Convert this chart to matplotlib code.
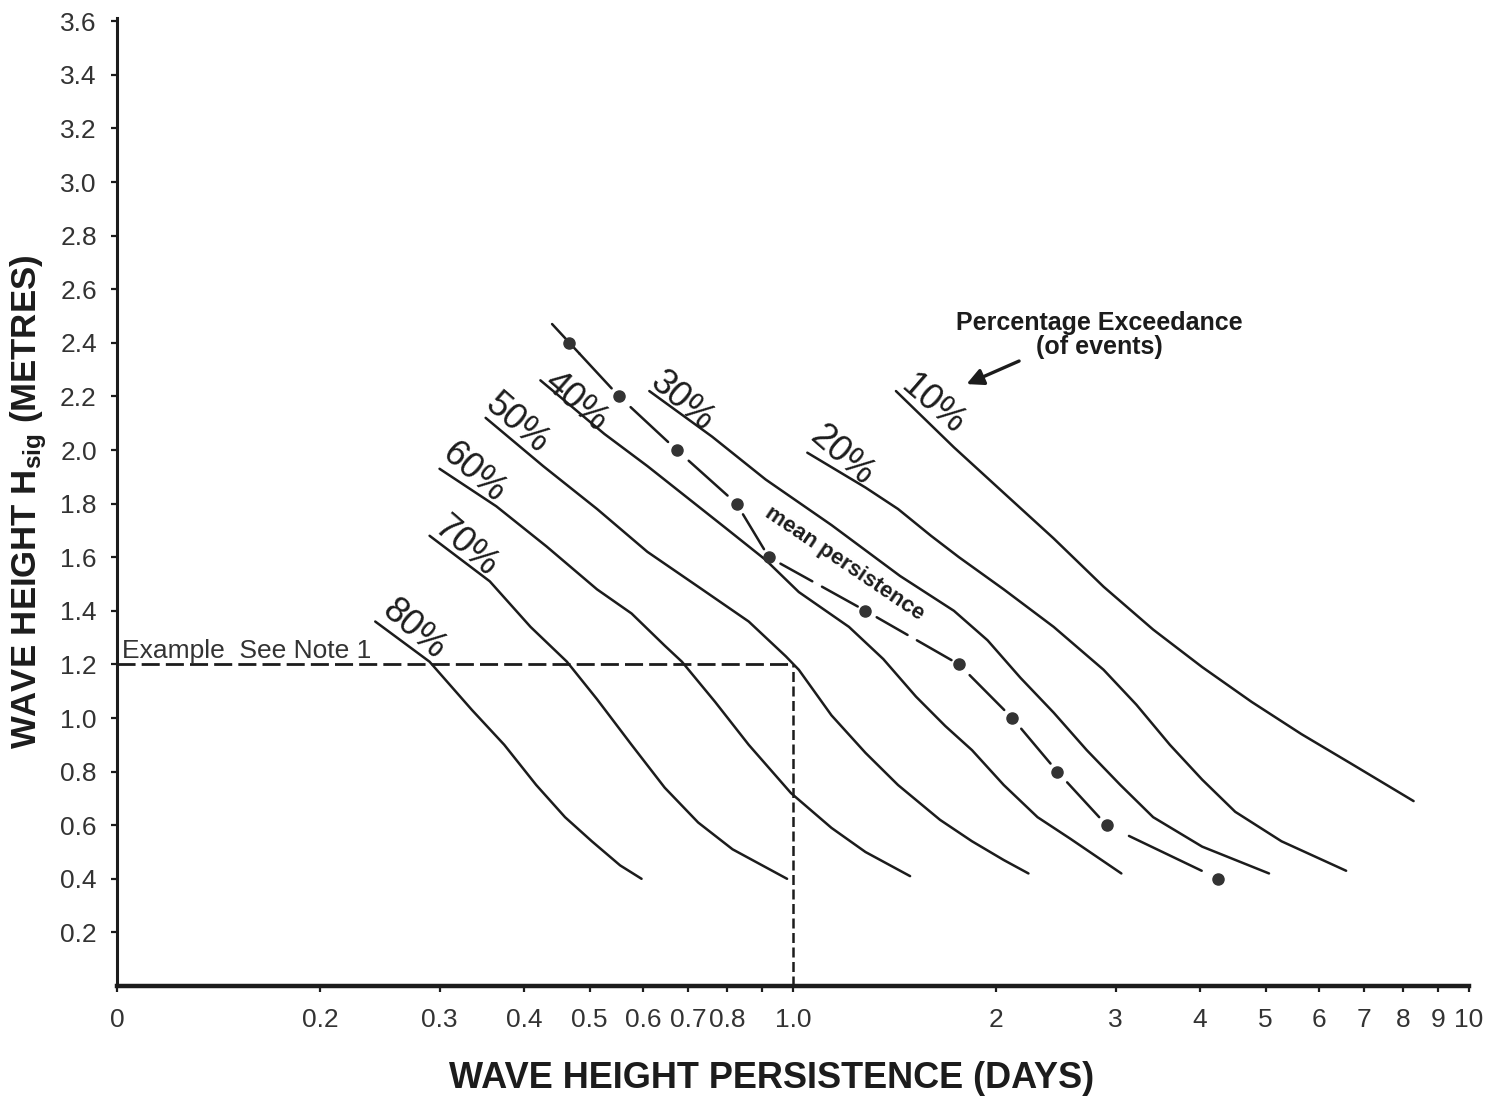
import numpy as np
import matplotlib
matplotlib.use("Agg")
import matplotlib.pyplot as plt
from matplotlib import font_manager
from matplotlib.ticker import FixedLocator, FixedFormatter, NullLocator

# ---- values: persistence (days) vs Hsig (m) ----
levels = ["10%", "20%", "30%", "40%", "50%", "60%", "70%", "80%"]

days_10 = [1.42, 1.73, 2.05, 2.43, 2.88, 3.41, 4.03, 4.77, 5.65, 6.69, 8.28]
hsig_10 = [2.22, 2.01, 1.84, 1.67, 1.49, 1.33, 1.19, 1.06, 0.94, 0.83, 0.69]

days_20 = [1.05, 1.28, 1.43, 1.60, 1.76, 2.05, 2.43, 2.88, 3.22, 3.61, 4.03, 4.51, 5.28, 6.58]
hsig_20 = [1.99, 1.86, 1.78, 1.68, 1.60, 1.48, 1.34, 1.18, 1.05, 0.90, 0.77, 0.65, 0.54, 0.43]

days_30 = [0.613, 0.759, 0.911, 1.14, 1.44, 1.73, 1.94, 2.17, 2.43, 2.72, 3.05, 3.41, 4.03, 5.06]
hsig_30 = [2.22, 2.05, 1.89, 1.72, 1.53, 1.40, 1.29, 1.15, 1.02, 0.88, 0.75, 0.63, 0.52, 0.42]

days_40 = [0.423, 0.526, 0.609, 0.724, 0.794, 0.911, 1.02, 1.21, 1.36, 1.52, 1.68, 1.84, 2.05, 2.30, 2.57, 3.06]
hsig_40 = [2.26, 2.06, 1.94, 1.79, 1.71, 1.59, 1.47, 1.34, 1.22, 1.08, 0.97, 0.88, 0.75, 0.63, 0.55, 0.42]

days_50 = [0.351, 0.427, 0.513, 0.609, 0.724, 0.860, 0.976, 1.02, 1.14, 1.28, 1.43, 1.65, 1.84, 2.05, 2.23]
hsig_50 = [2.12, 1.94, 1.78, 1.62, 1.49, 1.36, 1.23, 1.18, 1.01, 0.87, 0.75, 0.62, 0.54, 0.47, 0.42]

days_60 = [0.300, 0.364, 0.432, 0.513, 0.577, 0.646, 0.685, 0.767, 0.860, 0.993, 1.14, 1.28, 1.49]
hsig_60 = [1.93, 1.79, 1.64, 1.48, 1.39, 1.27, 1.21, 1.06, 0.90, 0.72, 0.59, 0.50, 0.41]

days_70 = [0.290, 0.356, 0.409, 0.463, 0.513, 0.577, 0.646, 0.724, 0.814, 0.980]
hsig_70 = [1.68, 1.51, 1.34, 1.21, 1.07, 0.90, 0.74, 0.61, 0.51, 0.40]

days_80 = [0.241, 0.290, 0.335, 0.374, 0.417, 0.460, 0.504, 0.555, 0.597]
hsig_80 = [1.36, 1.21, 1.03, 0.90, 0.75, 0.63, 0.54, 0.45, 0.40]

# mean persistence dots
mean_days = [0.467, 0.553, 0.673, 0.825, 0.921, 1.28, 1.76, 2.11, 2.46, 2.91, 4.26]
mean_hsig = [2.4, 2.2, 2.0, 1.8, 1.6, 1.4, 1.2, 1.0, 0.8, 0.6, 0.4]

# worked example (see note 1)
example_days = 1.0
example_hsig = 1.2

xtick_vals = [0.1, 0.2, 0.3, 0.4, 0.5, 0.6, 0.7, 0.8, 0.9, 1, 2, 3, 4, 5, 6, 7, 8, 9, 10]
xtick_labels = ["0", "0.2", "0.3", "0.4", "0.5", "0.6", "0.7", "0.8", "", "1.0",
                "2", "3", "4", "5", "6", "7", "8", "9", "10"]
ytick_vals = [0.2, 0.4, 0.6, 0.8, 1.0, 1.2, 1.4, 1.6, 1.8, 2.0, 2.2, 2.4, 2.6, 2.8, 3.0, 3.2, 3.4, 3.6]
ytick_labels = ["%.1f" % v for v in ytick_vals]

curves = [(days_10, hsig_10), (days_20, hsig_20), (days_30, hsig_30), (days_40, hsig_40),
          (days_50, hsig_50), (days_60, hsig_60), (days_70, hsig_70), (days_80, hsig_80)]

# where the % labels sit (above the start of each curve)
label_pos = [(1.61, 2.17), (1.18, 1.98), (0.685, 2.18), (0.477, 2.18),
             (0.391, 2.10), (0.337, 1.915), (0.328, 1.64), (0.275, 1.33)]

# ---- fonts ----
names = {f.name for f in font_manager.fontManager.ttflist}
has_narrow = "Liberation Sans Narrow" in names
narrow = "Liberation Sans Narrow" if has_narrow else "Liberation Sans"

plt.rcParams["font.family"] = ["Liberation Sans", "DejaVu Sans"]
plt.rcParams["mathtext.fontset"] = "custom"
plt.rcParams["mathtext.rm"] = "Liberation Sans"
plt.rcParams["mathtext.bf"] = "Liberation Sans:bold"

INK = "#1c1c1c"
GREY = "#333333"

fig = plt.figure(figsize=(14.89, 10.96), dpi=100)
ax = fig.add_axes([117 / 1489, 1 - 986 / 1096, 1352 / 1489, 968 / 1096])
ax.set_xscale("log")
ax.set_xlim(0.1, 10)
ax.set_ylim(0, 3.612)

for xs, ys in curves:
    ax.plot(xs, ys, color=INK, lw=1.8, solid_capstyle="round", solid_joinstyle="round")

for lab, (lx, ly) in zip(levels, label_pos):
    ax.text(lx, ly, lab, rotation=-41, rotation_mode="anchor", ha="center", va="center",
            fontsize=26, color=INK)

# mean persistence: dashes between the dots
ax.plot(mean_days, mean_hsig, "o", ms=8, color=GREY, zorder=4)
lg = np.log10(mean_days)
hs = np.array(mean_hsig)
pieces = [(0, -0.35, 0.2)]
for i in range(len(lg) - 1):
    if i in (4, 5):
        pieces += [(i, 0.12, 0.45), (i, 0.55, 0.92)]
    else:
        pieces.append((i, 0.2, 0.85))
for i, a, b in pieces:
    t = np.array([a, b])
    ax.plot(10 ** (lg[i] + t * (lg[i + 1] - lg[i])), hs[i] + t * (hs[i + 1] - hs[i]),
            color=INK, lw=1.8, solid_capstyle="round")

ax.text(1.19, 1.575, "mean persistence", rotation=-34, rotation_mode="anchor",
        ha="center", va="center", family=[narrow, "DejaVu Sans"], fontweight="bold",
        fontsize=19 if has_narrow else 16, color=INK)

# example lines
ax.plot([0.1, example_days], [example_hsig, example_hsig], color=INK, lw=2.0,
        ls=(0, (6.5, 2.2)))
ax.plot([example_days, example_days], [0, example_hsig], color=INK, lw=1.8,
        ls=(0, (4, 1.8)))
ax.text(0.1017, 1.224, "Example  See Note 1", ha="left", va="baseline",
        fontsize=19, color=GREY)

# annotation
ax.text(2.84, 2.43, "Percentage Exceedance\n(of events)", ha="center", va="center",
        fontsize=18, fontweight="bold", linespacing=1.0, color=INK)
ax.annotate("", xy=(1.806, 2.246), xytext=(2.16, 2.332),
            arrowprops=dict(arrowstyle="-|>", lw=2.4, color=INK, mutation_scale=25,
                            shrinkA=0, shrinkB=0))

# axes styling
for s in ("top", "right"):
    ax.spines[s].set_visible(False)
ax.spines["left"].set_linewidth(2.2)
ax.spines["bottom"].set_linewidth(3.2)
ax.spines["left"].set_color(INK)
ax.spines["bottom"].set_color(INK)

ax.xaxis.set_major_locator(FixedLocator(xtick_vals))
ax.xaxis.set_major_formatter(FixedFormatter(xtick_labels))
ax.xaxis.set_minor_locator(NullLocator())
ax.set_yticks(ytick_vals, ytick_labels)
ax.tick_params(axis="y", direction="out", length=4.5, width=1.6, pad=10,
               labelsize=19, labelcolor=GREY, color=INK)
ax.tick_params(axis="x", direction="out", length=4, width=1.6, pad=12,
               labelsize=19, labelcolor=GREY, color=INK)

ax.set_xlabel("WAVE HEIGHT PERSISTENCE (DAYS)", fontsize=26, fontweight="bold", color=INK)
ax.xaxis.label.set_va("center")
ax.xaxis.set_label_coords((772 - 117) / 1352, (986 - 1078) / 968)

ax.set_ylabel(r"WAVE HEIGHT $\mathbf{H_{sig}}$ (METRES)", fontsize=29 if has_narrow else 25,
              fontweight="bold", family=[narrow, "DejaVu Sans"], color=INK)
ax.yaxis.label.set_va("center")
ax.yaxis.set_label_coords((29 - 117) / 1352, (986 - 502) / 968)

fig.savefig("out.png", dpi=100, facecolor="white")
